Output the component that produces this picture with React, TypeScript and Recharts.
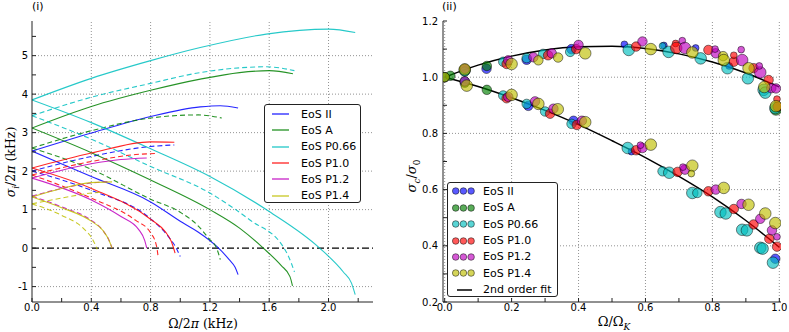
import React from "react";
import {
  ComposedChart,
  Line,
  Scatter,
  XAxis,
  YAxis,
  ZAxis,
  ReferenceLine,
  Legend,
} from "recharts";

type Pt = [number, number];
type MPt = [number, number, number];

const eosNames = ["EoS II", "EoS A", "EoS P0.66", "EoS P1.0", "EoS P1.2", "EoS P1.4"];
const eosColors = ["#0000ff", "#008000", "#00bfbf", "#ff0000", "#bf00bf", "#bfbf00"];

// (i) sigma_i / 2pi vs Omega / 2pi, both kHz
const iiSolidUp: Pt[] = [[0, 2.52], [0.4, 2.99], [0.8, 3.42], [1.135, 3.67], [1.27, 3.7], [1.39, 3.64]];
const iiSolidDown: Pt[] = [[0, 2.52], [0.4, 1.86], [0.8, 1.2], [1.02, 0.65], [1.12, 0.42], [1.25, 0.03], [1.33, -0.3], [1.37, -0.5], [1.39, -0.69]];
const iiDashUp: Pt[] = [[0, 2.0], [0.4, 2.38], [0.8, 2.64], [0.96, 2.68]];
const iiDashDown: Pt[] = [[0, 2.0], [0.4, 1.5], [0.8, 0.76], [0.92, 0.3], [0.97, 0.02], [1.0, -0.22]];

const aSolidUp: Pt[] = [[0, 3.12], [0.4, 3.68], [0.8, 4.1], [1.135, 4.39], [1.4, 4.56], [1.6, 4.61], [1.76, 4.53]];
const aSolidDown: Pt[] = [[0, 3.12], [0.4, 2.48], [0.8, 1.77], [1.2, 1.0], [1.4, 0.52], [1.56, 0], [1.68, -0.45], [1.74, -0.74], [1.757, -0.98]];
const aDashUp: Pt[] = [[0, 2.6], [0.4, 3.05], [0.8, 3.38], [1.12, 3.46], [1.28, 3.38]];
const aDashDown: Pt[] = [[0, 2.6], [0.4, 2.05], [0.8, 1.27], [1.0, 0.93], [1.12, 0.58], [1.19, 0.26], [1.25, -0.05], [1.27, -0.3]];

const p066SolidUp: Pt[] = [[0, 3.85], [0.4, 4.41], [0.8, 4.87], [1.135, 5.21], [1.58, 5.56], [2.0, 5.69], [2.18, 5.6]];
const p066SolidDown: Pt[] = [[0, 3.85], [0.4, 3.26], [0.8, 2.58], [1.2, 1.86], [1.6, 0.95], [1.94, 0], [2.1, -0.62], [2.155, -0.91], [2.18, -1.21]];
const p066DashUp: Pt[] = [[0, 3.44], [0.4, 3.92], [0.8, 4.28], [1.135, 4.56], [1.58, 4.71], [1.77, 4.61]];
const p066DashDown: Pt[] = [[0, 3.44], [0.4, 2.83], [0.8, 2.12], [1.2, 1.43], [1.47, 0.73], [1.7, 0], [1.75, -0.4], [1.77, -0.62]];

const p10SolidUp: Pt[] = [[0, 2.08], [0.4, 2.47], [0.8, 2.76], [0.96, 2.75]];
const p10SolidDown: Pt[] = [[0, 2.08], [0.4, 1.55], [0.8, 0.75], [0.9, 0.42], [0.94, 0.17], [0.965, -0.13]];
const p10DashUp: Pt[] = [[0, 1.9], [0.4, 2.25], [0.7, 2.43], [0.84, 2.46]];
const p10DashDown: Pt[] = [[0, 1.9], [0.4, 1.3], [0.7, 0.72], [0.8, 0.4], [0.84, 0.05], [0.85, -0.2]];

const p12SolidUp: Pt[] = [[0, 1.82], [0.4, 2.19], [0.6, 2.3], [0.774, 2.34]];
const p12SolidDown: Pt[] = [[0, 1.82], [0.4, 1.25], [0.6, 0.82], [0.72, 0.48], [0.76, 0.2], [0.774, 0]];
const p12DashUp: Pt[] = [[0, 1.35], [0.2, 1.55], [0.4, 1.69], [0.52, 1.73]];
const p12DashDown: Pt[] = [[0, 1.35], [0.2, 1.07], [0.4, 0.72], [0.48, 0.45], [0.52, 0.2], [0.54, 0]];

const p14SolidUp: Pt[] = [[0, 1.33], [0.2, 1.55], [0.4, 1.7], [0.54, 1.72]];
const p14SolidDown: Pt[] = [[0, 1.33], [0.2, 1.05], [0.4, 0.7], [0.48, 0.45], [0.52, 0.2], [0.54, 0]];
const p14DashUp: Pt[] = [[0, 1.15], [0.2, 1.3], [0.4, 1.43], [0.46, 1.45]];
const p14DashDown: Pt[] = [[0, 1.15], [0.2, 0.85], [0.35, 0.5], [0.41, 0.22], [0.44, -0.03]];

const leftXTicks = [0, 0.2, 0.4, 0.6, 0.8, 1.0, 1.2, 1.4, 1.6, 1.8, 2.0, 2.2];
const leftYTicks = [-1, -0.5, 0, 0.5, 1, 1.5, 2, 2.5, 3, 3.5, 4, 4.5, 5, 5.5];
const leftXGrid = [0.4, 0.8, 1.2, 1.6, 2.0];
const leftYGrid = [-1, 1, 2, 3, 4, 5];

// (ii) sigma_c / sigma_0 vs Omega / Omega_K, third value = stellar mass
const iiPoints: MPt[] = [
  [0, 1.0, 1.6], [0.125, 1.03, 1.6], [0.245, 1.062, 1.6], [0.379, 1.1, 1.6], [0.537, 1.117, 1.2],
  [0.655, 1.113, 1.2], [0.75, 1.104, 1.2], [0.85, 1.04, 1.2],
  [0.25, 0.898, 1.6], [0.385, 0.845, 1.6], [0.558, 0.735, 1.2], [0.988, 0.354, 1.6],
];
const aPoints: MPt[] = [
  [0, 1.0, 1.6], [0.017, 1.005, 1.6], [0.06, 1.025, 2.0], [0.126, 1.04, 1.6], [0.99, 0.885, 2.0],
  [0.06, 0.98, 1.6], [0.126, 0.955, 1.6],
];
const p066Points: MPt[] = [
  [0.06, 1.02, 1.6], [0.175, 1.055, 1.6], [0.245, 1.068, 1.6], [0.294, 1.083, 1.6], [0.375, 1.09, 1.6],
  [0.55, 1.097, 2.0], [0.651, 1.111, 1.2], [0.669, 1.09, 2.0], [0.765, 1.067, 2.0], [0.845, 1.032, 2.0],
  [0.906, 0.996, 2.0], [0.953, 0.955, 2.0], [0.958, 0.945, 2.0], [0.988, 0.89, 2.0],
  [0.06, 0.985, 1.6], [0.175, 0.935, 1.6], [0.245, 0.905, 1.6], [0.3, 0.878, 1.6], [0.379, 0.834, 1.6],
  [0.547, 0.748, 2.0], [0.651, 0.665, 1.6], [0.671, 0.66, 2.0], [0.74, 0.588, 2.0], [0.755, 0.588, 1.6],
  [0.824, 0.52, 2.0], [0.84, 0.515, 2.0], [0.889, 0.457, 2.0], [0.903, 0.455, 2.0], [0.943, 0.393, 2.0],
  [0.95, 0.39, 2.0], [0.981, 0.34, 2.0],
];
const p10Points: MPt[] = [
  [0.185, 1.047, 1.6], [0.309, 1.078, 1.6], [0.393, 1.1, 1.6], [0.572, 1.109, 1.6], [0.69, 1.12, 1.2],
  [0.692, 1.104, 2.0], [0.788, 1.097, 1.6], [0.864, 1.055, 1.6], [0.864, 1.078, 1.2], [0.923, 1.032, 1.6],
  [0.968, 0.99, 1.6], [0.993, 0.922, 1.2], [0.995, 0.895, 1.6],
  [0.185, 0.925, 1.6], [0.315, 0.87, 1.6], [0.395, 0.83, 1.6], [0.572, 0.74, 1.6], [0.696, 0.663, 1.6],
  [0.788, 0.594, 1.6], [0.864, 0.531, 1.6], [0.923, 0.476, 1.6], [0.97, 0.425, 1.6], [0.993, 0.397, 1.6],
];
const p12Points: MPt[] = [
  [0.06, 1.03, 1.6], [0.19, 1.06, 1.6], [0.265, 1.071, 1.6], [0.32, 1.085, 1.6], [0.4, 1.115, 1.6],
  [0.591, 1.127, 1.6], [0.71, 1.13, 1.2], [0.718, 1.104, 2.0], [0.81, 1.085, 1.6], [0.808, 1.1, 1.2],
  [0.889, 1.061, 2.0], [0.886, 1.098, 1.2], [0.943, 1.017, 2.0], [0.94, 1.04, 1.2], [0.976, 0.961, 1.6],
  [0.99, 0.96, 1.6],
  [0.06, 0.985, 1.6], [0.19, 0.93, 1.6], [0.27, 0.914, 1.6], [0.325, 0.888, 1.6], [0.41, 0.845, 1.6],
  [0.591, 0.748, 1.6], [0.585, 0.758, 1.2], [0.718, 0.671, 1.6], [0.712, 0.68, 1.2], [0.81, 0.6, 1.6],
  [0.887, 0.549, 1.6], [0.943, 0.496, 1.6], [0.978, 0.455, 1.6], [0.993, 0.432, 1.2],
];
const p14Points: MPt[] = [
  [0, 1.0, 1.6], [0.06, 1.028, 2.0], [0.2, 1.047, 2.0], [0.28, 1.06, 1.6], [0.339, 1.07, 1.6],
  [0.42, 1.085, 2.0], [0.616, 1.1, 2.0], [0.74, 1.088, 2.0], [0.832, 1.075, 1.6], [0.834, 1.061, 2.0],
  [0.908, 1.032, 2.0], [0.955, 0.965, 2.0], [0.99, 0.897, 2.0],
  [0.066, 0.97, 2.0], [0.2, 0.937, 2.0], [0.28, 0.905, 2.0], [0.338, 0.886, 2.0], [0.42, 0.84, 2.0],
  [0.616, 0.76, 2.0], [0.74, 0.685, 2.0], [0.737, 0.657, 1.2], [0.834, 0.606, 2.0], [0.908, 0.546, 2.0],
  [0.958, 0.515, 2.0], [0.988, 0.481, 2.0],
];

const fitX = [0, 0.1, 0.2, 0.3, 0.4, 0.5, 0.6, 0.7, 0.8, 0.9, 1.0];
const fitUpper = [1.0, 1.043, 1.075, 1.097, 1.108, 1.11, 1.102, 1.083, 1.054, 1.015, 0.965];
const fitLower = [1.0, 0.967, 0.927, 0.882, 0.831, 0.774, 0.714, 0.647, 0.574, 0.49, 0.395];

const rightXTicks = [0, 0.1, 0.2, 0.3, 0.4, 0.5, 0.6, 0.7, 0.8, 0.9, 1.0];
const rightYTicks = [0.2, 0.3, 0.4, 0.5, 0.6, 0.7, 0.8, 0.9, 1.0, 1.1, 1.2];
const rightXGrid = [0, 0.2, 0.4, 0.6, 0.8, 1.0];
const rightYGrid = [0.4, 0.6, 0.8, 1.0];

const leftCurves = [
  { eos: 0, dashed: false, pts: iiSolidUp }, { eos: 0, dashed: false, pts: iiSolidDown },
  { eos: 0, dashed: true, pts: iiDashUp }, { eos: 0, dashed: true, pts: iiDashDown },
  { eos: 1, dashed: false, pts: aSolidUp }, { eos: 1, dashed: false, pts: aSolidDown },
  { eos: 1, dashed: true, pts: aDashUp }, { eos: 1, dashed: true, pts: aDashDown },
  { eos: 2, dashed: false, pts: p066SolidUp }, { eos: 2, dashed: false, pts: p066SolidDown },
  { eos: 2, dashed: true, pts: p066DashUp }, { eos: 2, dashed: true, pts: p066DashDown },
  { eos: 3, dashed: false, pts: p10SolidUp }, { eos: 3, dashed: false, pts: p10SolidDown },
  { eos: 3, dashed: true, pts: p10DashUp }, { eos: 3, dashed: true, pts: p10DashDown },
  { eos: 4, dashed: false, pts: p12SolidUp }, { eos: 4, dashed: false, pts: p12SolidDown },
  { eos: 4, dashed: true, pts: p12DashUp }, { eos: 4, dashed: true, pts: p12DashDown },
  { eos: 5, dashed: false, pts: p14SolidUp }, { eos: 5, dashed: false, pts: p14SolidDown },
  { eos: 5, dashed: true, pts: p14DashUp }, { eos: 5, dashed: true, pts: p14DashDown },
];
const scatterSets = [iiPoints, aPoints, p066Points, p10Points, p12Points, p14Points];

const toXY = (pts: Pt[]) => pts.map(([x, y]) => ({ x, y }));
const toXYM = (pts: MPt[]) => pts.map(([x, y, m]) => ({ x, y, m }));
const fitData = (ys: number[]) => fitX.map((x, i) => ({ x, y: ys[i] }));

const tickFont = { fill: "#000", fontSize: 10, fontFamily: "DejaVu Sans" };
const frame = { stroke: "#222", strokeWidth: 1 };
const gridStyle = { stroke: "#777", strokeDasharray: "1 2", strokeWidth: 0.8 };
const mathFont = "DejaVu Serif";

const fmtEvery = (step: number) => (v: number) =>
  Math.abs(Math.round(v * 10) % Math.round(step * 10)) === 0 ? v.toFixed(1) : "";

const LeftLegend = () => (
  <div
    style={{
      width: 97, height: 99, boxSizing: "border-box", border: "1px solid #222",
      borderRadius: 3, background: "#fff", paddingTop: 1,
      fontFamily: "DejaVu Sans", fontSize: 11, color: "#000",
    }}
  >
    {eosNames.map((n, i) => (
      <div key={n} style={{ height: 16.3, display: "flex", alignItems: "center" }}>
        <svg width={36} height={6}>
          <line x1={7} x2={24} y1={3} y2={3} stroke={eosColors[i]} strokeWidth={1.5} strokeOpacity={0.75} />
        </svg>
        <span>{n}</span>
      </div>
    ))}
  </div>
);

const RightLegend = () => (
  <div
    style={{
      width: 111, height: 115, boxSizing: "border-box", border: "1px solid #222",
      borderRadius: 3, background: "#fff", paddingTop: 0,
      fontFamily: "DejaVu Sans", fontSize: 11, color: "#000",
    }}
  >
    {eosNames.map((n, i) => (
      <div key={n} style={{ height: 16.45, display: "flex", alignItems: "center" }}>
        <svg width={35} height={10}>
          {[7.7, 15.4, 23.1].map((cx) => (
            <circle key={cx} cx={cx} cy={5} r={3.3} fill={eosColors[i]} fillOpacity={0.65} stroke="#000" strokeOpacity={0.6} strokeWidth={0.8} />
          ))}
        </svg>
        <span>{n}</span>
      </div>
    ))}
    <div style={{ height: 16.45, display: "flex", alignItems: "center" }}>
      <svg width={35} height={6}>
        <line x1={9} x2={24} y1={3} y2={3} stroke="#000" strokeWidth={1.5} />
      </svg>
      <span>2nd order fit</span>
    </div>
  </div>
);

const abs = (left: number, top: number, extra: React.CSSProperties = {}): React.CSSProperties => ({
  position: "absolute", left, top, whiteSpace: "nowrap", color: "#000", ...extra,
});

export default function App() {
  return (
    <div style={{ position: "absolute", left: 0, top: 0, width: 789, height: 332, background: "#fff" }}>
      <div style={{ position: "absolute", left: 0, top: 0 }}>
        <ComposedChart width={390} height={332} margin={{ top: 21, right: 17, bottom: 0, left: 0 }}>
          <XAxis xAxisId="b" type="number" dataKey="x" domain={[0, 2.3]} allowDataOverflow ticks={leftXTicks}
            interval={0} tickFormatter={fmtEvery(0.4)} tick={tickFont} tickSize={-4} tickMargin={6}
            axisLine={frame} tickLine={frame} height={30} />
          <XAxis xAxisId="t" orientation="top" type="number" dataKey="x" domain={[0, 2.3]} allowDataOverflow
            ticks={leftXTicks} interval={0} tick={false} tickSize={-4} axisLine={frame} tickLine={frame} height={0} />
          <YAxis yAxisId="l" type="number" dataKey="y" domain={[-1.4, 5.9]} allowDataOverflow ticks={leftYTicks}
            interval={0} tickFormatter={(v: number) => (Number.isInteger(v) ? String(v) : "")}
            tick={tickFont} tickSize={-4} tickMargin={8} axisLine={frame} tickLine={frame} width={32} />
          <YAxis yAxisId="r" orientation="right" type="number" dataKey="y" domain={[-1.4, 5.9]} allowDataOverflow
            ticks={leftYTicks} interval={0} tick={false} tickSize={-4} axisLine={frame} tickLine={frame} width={0} />
          {leftXGrid.map((v) => (
            <ReferenceLine key={"gx" + v} x={v} xAxisId="b" yAxisId="l" {...gridStyle} />
          ))}
          {leftYGrid.map((v) => (
            <ReferenceLine key={"gy" + v} y={v} xAxisId="b" yAxisId="l" {...gridStyle} />
          ))}
          <ReferenceLine y={0} xAxisId="b" yAxisId="l" stroke="#000" strokeWidth={1.3} strokeDasharray="7 3 2 3" />
          {leftCurves.map((c, i) => (
            <Line key={i} data={toXY(c.pts)} dataKey="y" xAxisId="b" yAxisId="l" type="monotone"
              stroke={eosColors[c.eos]} strokeOpacity={0.85} strokeWidth={1.1}
              strokeDasharray={c.dashed ? "5 3" : undefined} dot={false} activeDot={false}
              isAnimationActive={false} />
          ))}
          <Legend layout="vertical" align="center" verticalAlign="middle" content={() => <LeftLegend />}
            wrapperStyle={{ left: 264, top: 104, width: 97, height: 99 }} />
        </ComposedChart>
      </div>

      <div style={{ position: "absolute", left: 400, top: 0 }}>
        <ComposedChart width={389} height={332} margin={{ top: 21, right: 8, bottom: 0, left: 0 }}>
          <XAxis xAxisId="b" type="number" dataKey="x" domain={[-0.005, 1.005]} allowDataOverflow ticks={rightXTicks}
            interval={0} tickFormatter={fmtEvery(0.2)} tick={tickFont} tickSize={-4} tickMargin={6}
            axisLine={frame} tickLine={frame} height={30} />
          <XAxis xAxisId="t" orientation="top" type="number" dataKey="x" domain={[-0.005, 1.005]} allowDataOverflow
            ticks={rightXTicks} interval={0} tick={false} tickSize={-4} axisLine={frame} tickLine={frame} height={0} />
          <YAxis yAxisId="l" type="number" dataKey="y" domain={[0.2, 1.2]} allowDataOverflow ticks={rightYTicks}
            interval={0} tickFormatter={fmtEvery(0.2)} tick={tickFont} tickSize={-4} tickMargin={9}
            axisLine={frame} tickLine={frame} width={43} />
          <YAxis yAxisId="r" orientation="right" type="number" dataKey="y" domain={[0.2, 1.2]} allowDataOverflow
            ticks={rightYTicks} interval={0} tick={false} tickSize={-4} axisLine={frame} tickLine={frame} width={0} />
          <ZAxis zAxisId="m" type="number" dataKey="m" domain={[1.2, 2.0]} range={[36, 105]} />
          {rightXGrid.map((v) => (
            <ReferenceLine key={"gx" + v} x={v} xAxisId="b" yAxisId="l" {...gridStyle} />
          ))}
          {rightYGrid.map((v) => (
            <ReferenceLine key={"gy" + v} y={v} xAxisId="b" yAxisId="l" {...gridStyle} />
          ))}
          {scatterSets.map((s, i) => (
            <Scatter key={i} data={toXYM(s)} xAxisId="b" yAxisId="l" zAxisId="m" shape="circle"
              fill={eosColors[i]} fillOpacity={0.65} stroke="#000" strokeOpacity={0.6} strokeWidth={0.8}
              isAnimationActive={false} />
          ))}
          <Line data={fitData(fitUpper)} dataKey="y" xAxisId="b" yAxisId="l" type="monotone" stroke="#000"
            strokeWidth={1.5} dot={false} activeDot={false} isAnimationActive={false} />
          <Line data={fitData(fitLower)} dataKey="y" xAxisId="b" yAxisId="l" type="monotone" stroke="#000"
            strokeWidth={1.5} dot={false} activeDot={false} isAnimationActive={false} />
          <Legend layout="vertical" align="center" verticalAlign="middle" content={() => <RightLegend />}
            wrapperStyle={{ left: 47, top: 182, width: 111, height: 115 }} />
        </ComposedChart>
      </div>

      <div style={abs(32, 0, { fontFamily: "DejaVu Sans", fontSize: 11 })}>(i)</div>
      <div style={abs(442, 0, { fontFamily: "DejaVu Sans", fontSize: 11 })}>(ii)</div>

      <div style={abs(12, 162, { fontFamily: mathFont, fontSize: 12.5, transform: "translate(-50%, -50%) rotate(-90deg)" })}>
        <i>σ</i><sub style={{ fontSize: 9 }}><i>i</i></sub>/2<i>π</i> (kHz)
      </div>
      <div style={abs(203, 323, { fontFamily: mathFont, fontSize: 12.5, transform: "translate(-50%, -50%)" })}>
        Ω/2<i>π</i> (kHz)
      </div>
      <div style={abs(413, 176, { fontFamily: mathFont, fontSize: 13, transform: "translate(-50%, -50%) rotate(-90deg)" })}>
        <i>σ</i><sub style={{ fontSize: 9 }}><i>c</i></sub>/<i>σ</i><sub style={{ fontSize: 9 }}>0</sub>
      </div>
      <div style={abs(614, 323, { fontFamily: mathFont, fontSize: 13, transform: "translate(-50%, -50%)" })}>
        Ω/Ω<sub style={{ fontSize: 9 }}><i>K</i></sub>
      </div>
    </div>
  );
}
